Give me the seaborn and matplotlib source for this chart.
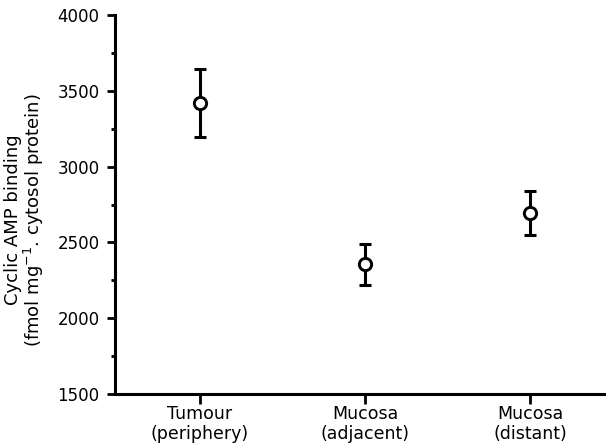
import matplotlib
matplotlib.use("Agg")
import matplotlib.pyplot as plt
from matplotlib.ticker import MultipleLocator
import seaborn as sns
import pandas as pd

# ---- data ----
categories = ["Tumour\n(periphery)", "Mucosa\n(adjacent)", "Mucosa\n(distant)"]
means = [3420, 2355, 2695]
errors = [225, 133, 146]
y_ticks = [1500, 2000, 2500, 3000, 3500, 4000]

sns.set_theme(style="ticks")
plt.rcParams["font.family"] = ["DejaVu Sans"]

df = pd.DataFrame({"site": categories, "binding": means, "err": errors})

fig = plt.figure(figsize=(6.06, 4.48), dpi=100)
ax = fig.add_axes([115 / 606, 1 - 394 / 448, 1 - 115 / 606, (394 - 15) / 448])

pos = list(range(len(categories)))
ax.errorbar(pos, df["binding"], yerr=df["err"], fmt="none", ecolor="black",
            elinewidth=2.2, capsize=4.2, capthick=2.2, zorder=2)
sns.scatterplot(data=df, x="site", y="binding", ax=ax, s=78, marker="o",
                facecolor="white", edgecolor="black", linewidth=2.1, zorder=3,
                legend=False)

ax.set_xlim(-0.515, 2.46)
ax.set_ylim(1500, 4000)
ax.set_yticks(y_ticks)
ax.yaxis.set_minor_locator(MultipleLocator(250))
ax.set_xticks(pos)
ax.set_xticklabels(categories, fontsize=12.5, linespacing=1.15)
ax.tick_params(axis="y", which="major", labelsize=12, length=6, width=2.0,
               pad=5, color="black", labelcolor="black", direction="out")
ax.tick_params(axis="y", which="minor", length=3, width=2.0, color="black")
ax.tick_params(axis="x", which="major", length=7, width=2.0, pad=1,
               color="black", labelcolor="black", direction="out")

ax.set_xlabel("")
ax.set_ylabel("Cyclic AMP binding\n(fmol mg$^{-1}$. cytosol protein)",
              fontsize=13, linespacing=1.0, color="black")
ax.yaxis.set_label_coords(-0.140, 0.459)

for side in ["top", "right"]:
    ax.spines[side].set_visible(False)
for side in ["left", "bottom"]:
    ax.spines[side].set_linewidth(2.2)
    ax.spines[side].set_color("black")
    ax.spines[side].set_capstyle("projecting")

fig.savefig("out.png", dpi=100)
